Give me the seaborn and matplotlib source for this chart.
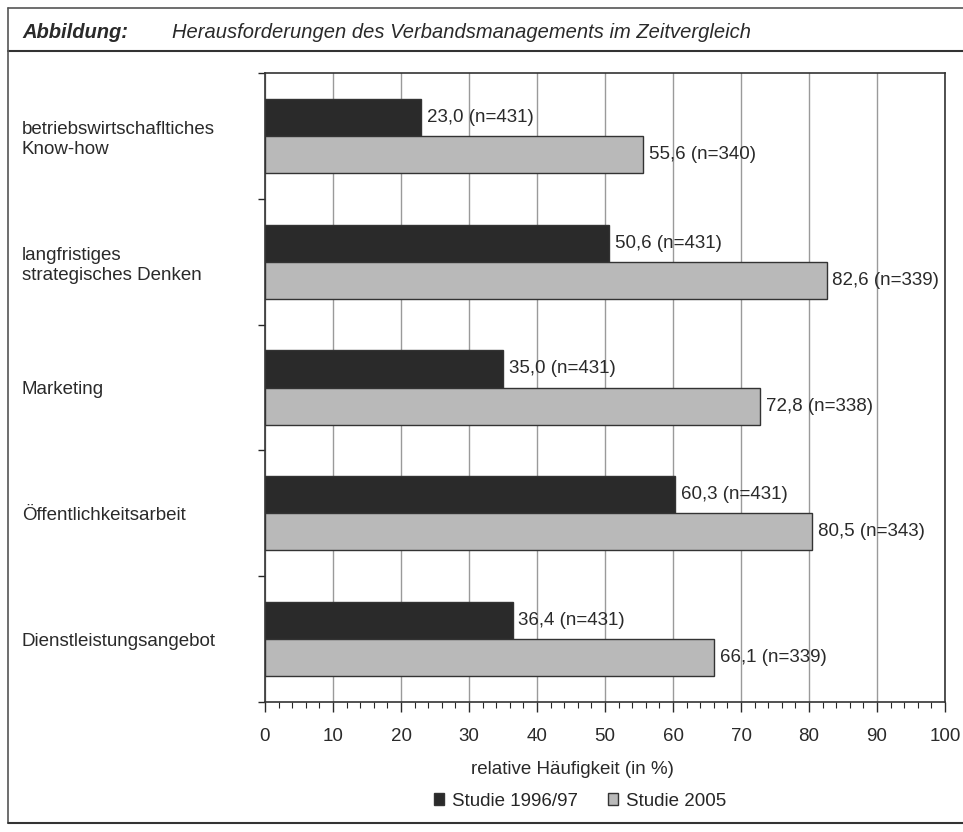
import pandas as pd
import matplotlib.pyplot as plt
import seaborn as sns
from matplotlib.ticker import MultipleLocator
from matplotlib.lines import Line2D

kategorien = ['betriebswirtschafltiches\nKnow-how', 'langfristiges\nstrategisches Denken',
              'Marketing', 'Öffentlichkeitsarbeit', 'Dienstleistungsangebot']
studien = ['Studie 1996/97', 'Studie 2005']
werte_1996 = [23.0, 50.6, 35.0, 60.3, 36.4]
werte_2005 = [55.6, 82.6, 72.8, 80.5, 66.1]
n_1996 = [431, 431, 431, 431, 431]
n_2005 = [340, 339, 338, 343, 339]

df = pd.DataFrame({
    'Kategorie': kategorien * 2,
    'Studie': [studien[0]] * 5 + [studien[1]] * 5,
    'Wert': werte_1996 + werte_2005,
})

sns.set_theme(style='white')
plt.rcParams['font.family'] = ['Liberation Sans', 'DejaVu Sans']
fs = 13.5

fig = plt.figure(figsize=(9.63, 8.32), dpi=100)
ax = fig.add_axes([265 / 963, 1 - 702 / 832, 680 / 963, 629 / 832])

sns.barplot(data=df, y='Kategorie', x='Wert', hue='Studie', orient='h',
            palette=['#2a2a2a', '#b9b9b9'], width=0.59, edgecolor='#333333',
            linewidth=1.0, saturation=1, ax=ax, legend=False, zorder=3)

for cont, werte, ns in zip(ax.containers, [werte_1996, werte_2005], [n_1996, n_2005]):
    labels = [f"{v:.1f}".replace('.', ',') + f" (n={n})" for v, n in zip(werte, ns)]
    ax.bar_label(cont, labels=labels, padding=4, fontsize=fs, color='#2a2a2a', zorder=4)

ax.set_xlim(0, 100)
ax.set_ylim(4.5, -0.5)
ax.xaxis.set_major_locator(MultipleLocator(10))
ax.xaxis.set_minor_locator(MultipleLocator(2))
ax.tick_params(axis='x', which='major', length=7, width=1, direction='out',
               labelsize=fs, pad=12, colors='#2a2a2a', bottom=True)
ax.tick_params(axis='x', which='minor', length=4, width=0.8, direction='out',
               bottom=True)
ax.set_yticks([-0.5, 0.5, 1.5, 2.5, 3.5, 4.5], minor=True)
ax.tick_params(axis='y', which='minor', length=5, width=1, direction='out', left=True)
ax.tick_params(axis='y', which='major', length=0, labelsize=fs, pad=0, colors='#2a2a2a')
for lbl in ax.get_yticklabels():
    lbl.set_horizontalalignment('left')
    lbl.set_x(-243 / 680)
    lbl.set_linespacing(1.25)
ax.grid(axis='x', which='major', color='#9a9a9a', linewidth=1.0, zorder=0)
ax.set_xlabel('')
ax.set_ylabel('')
for s in ax.spines.values():
    s.set_color('#333333')
    s.set_linewidth(1.2)

fig.text(572 / 963, 1 - 769 / 832, 'relative Häufigkeit (in %)', ha='center',
         va='center', fontsize=fs, color='#2a2a2a')

handles = [plt.Rectangle((0, 0), 1, 1, facecolor='#2a2a2a', edgecolor='#333333'),
           plt.Rectangle((0, 0), 1, 1, facecolor='#b9b9b9', edgecolor='#333333')]
fig.legend(handles, studien, loc='center', bbox_to_anchor=(580 / 963, 1 - 801 / 832),
           ncol=2, frameon=False, fontsize=fs, handlelength=0.55, handleheight=0.55,
           handletextpad=0.4, columnspacing=1.6)

fig.text(22 / 963, 1 - 33 / 832, 'Abbildung:', fontsize=14.5, fontweight='bold',
         fontstyle='italic', va='center', color='#2a2a2a')
fig.text(172 / 963, 1 - 33 / 832, 'Herausforderungen des Verbandsmanagements im Zeitvergleich',
         fontsize=14.5, fontstyle='italic', va='center', color='#2a2a2a')

fig.add_artist(Line2D([8 / 963, 1], [1 - 8 / 832] * 2, color='#555555', lw=1.2))
fig.add_artist(Line2D([8 / 963, 1], [1 - 51 / 832] * 2, color='#333333', lw=1.5))
fig.add_artist(Line2D([8 / 963, 8 / 963], [1 - 8 / 832, 1 - 822 / 832], color='#555555', lw=1.2))
fig.add_artist(Line2D([8 / 963, 1], [1 - 823 / 832] * 2, color='#333333', lw=1.5))

fig.savefig('out.png', dpi=100)
